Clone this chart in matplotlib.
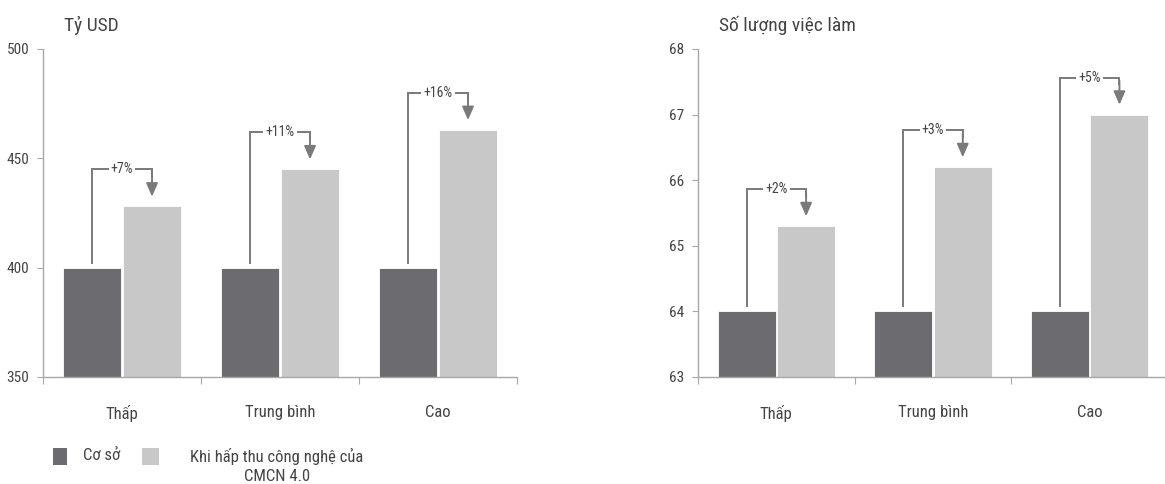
import matplotlib
matplotlib.use('Agg')
import matplotlib.pyplot as plt
from matplotlib.patches import Rectangle

plt.rcParams['font.family'] = ['Liberation Sans Narrow', 'Roboto Condensed',
                               'Liberation Sans', 'DejaVu Sans']

categories = ['Thấp', 'Trung bình', 'Cao']
series_names = ['Cơ sở', 'Khi hấp thu công nghệ của\nCMCN 4.0']

gdp_base = [400, 400, 400]
gdp_cmcn = [428, 445, 463]
gdp_pct = ['+7%', '+11%', '+16%']

jobs_base = [64.0, 64.0, 64.0]
jobs_cmcn = [65.3, 66.2, 67.0]
jobs_pct = ['+2%', '+3%', '+5%']

DARK = '#6b6b70'
LIGHT = '#c8c8c8'
AXIS = '#a8a8a8'
TEXT = '#444444'
BRACKET = '#7a7a7a'
W = 0.37


def draw_panel(ax, base, cmcn, pct, ylim, yticks, title):
    xs = range(len(categories))
    xd = [x - 0.19 for x in xs]
    xl = [x + 0.19 for x in xs]
    ax.bar(xd, [b - ylim[0] for b in base], bottom=ylim[0], width=W,
           color=DARK, edgecolor='white', linewidth=0.6)
    ax.bar(xl, [c - ylim[0] for c in cmcn], bottom=ylim[0], width=W,
           color=LIGHT, edgecolor='white', linewidth=0.6)
    ax.set_xlim(-0.5, 2.5)
    ax.set_ylim(*ylim)
    ax.set_yticks(yticks)
    ax.set_xticks([-0.5, 0.5, 1.5, 2.5])
    ax.set_xticklabels([])
    ax.set_xticks(list(xs), minor=True)
    ax.set_xticklabels(categories, minor=True)
    ax.tick_params(axis='x', which='minor', length=0, pad=20,
                   labelsize=12, labelcolor=TEXT)
    ax.tick_params(axis='x', which='major', length=5, color=AXIS)
    ax.tick_params(axis='y', length=4, color=AXIS, labelsize=11,
                   labelcolor=TEXT, pad=6)
    for s in ['top', 'right']:
        ax.spines[s].set_visible(False)
    for s in ['left', 'bottom']:
        ax.spines[s].set_color(AXIS)
        ax.spines[s].set_linewidth(1.0)
    ax.text(0.045, 1.073, title, transform=ax.transAxes, fontsize=14,
            color=TEXT, ha='left', va='center')

    # bracket + arrow from the base bar to the CMCN bar
    rng = ylim[1] - ylim[0]
    for i in xs:
        top = cmcn[i] + 0.113 * rng
        ax.plot([xd[i], xd[i], xl[i], xl[i]],
                [base[i] + 0.015 * rng, top, top, top - 0.02 * rng],
                color=BRACKET, lw=1.4, solid_joinstyle='miter',
                clip_on=False)
        ax.annotate('', xy=(xl[i], cmcn[i] + 0.03 * rng),
                    xytext=(xl[i], top - 0.01 * rng),
                    arrowprops=dict(arrowstyle='-|>,head_length=0.8,head_width=0.35',
                                    color=BRACKET, lw=1.4,
                                    shrinkA=0, shrinkB=0))
        ax.text((xd[i] + xl[i]) / 2, top, pct[i], fontsize=10, color=TEXT,
                ha='center', va='center',
                bbox=dict(facecolor='white', edgecolor='none', pad=1.5))


fig = plt.figure(figsize=(11.65, 4.84), dpi=100)
ax1 = fig.add_axes([43 / 1165, 107 / 484, 474 / 1165, 328 / 484])
ax2 = fig.add_axes([698 / 1165, 107 / 484, 470 / 1165, 328 / 484])

draw_panel(ax1, gdp_base, gdp_cmcn, gdp_pct, (350, 500),
           [350, 400, 450, 500], 'Tỷ USD')
draw_panel(ax2, jobs_base, jobs_cmcn, jobs_pct, (63, 68),
           [63, 64, 65, 66, 67, 68], 'Số lượng việc làm')

# legend
fig.patches.append(Rectangle((53 / 1165, (484 - 465) / 484), 14 / 1165,
                             17 / 484, transform=fig.transFigure,
                             facecolor=DARK, edgecolor='none'))
fig.text(83 / 1165, (484 - 456) / 484, series_names[0], fontsize=12,
         color=TEXT, ha='left', va='center')
fig.patches.append(Rectangle((142 / 1165, (484 - 465) / 484), 17 / 1165,
                             17 / 484, transform=fig.transFigure,
                             facecolor=LIGHT, edgecolor='none'))
fig.text(277 / 1165, (484 - 466) / 484, series_names[1], fontsize=12,
         color=TEXT, ha='center', va='center', linespacing=1.3)

fig.savefig('out.png', dpi=100)
